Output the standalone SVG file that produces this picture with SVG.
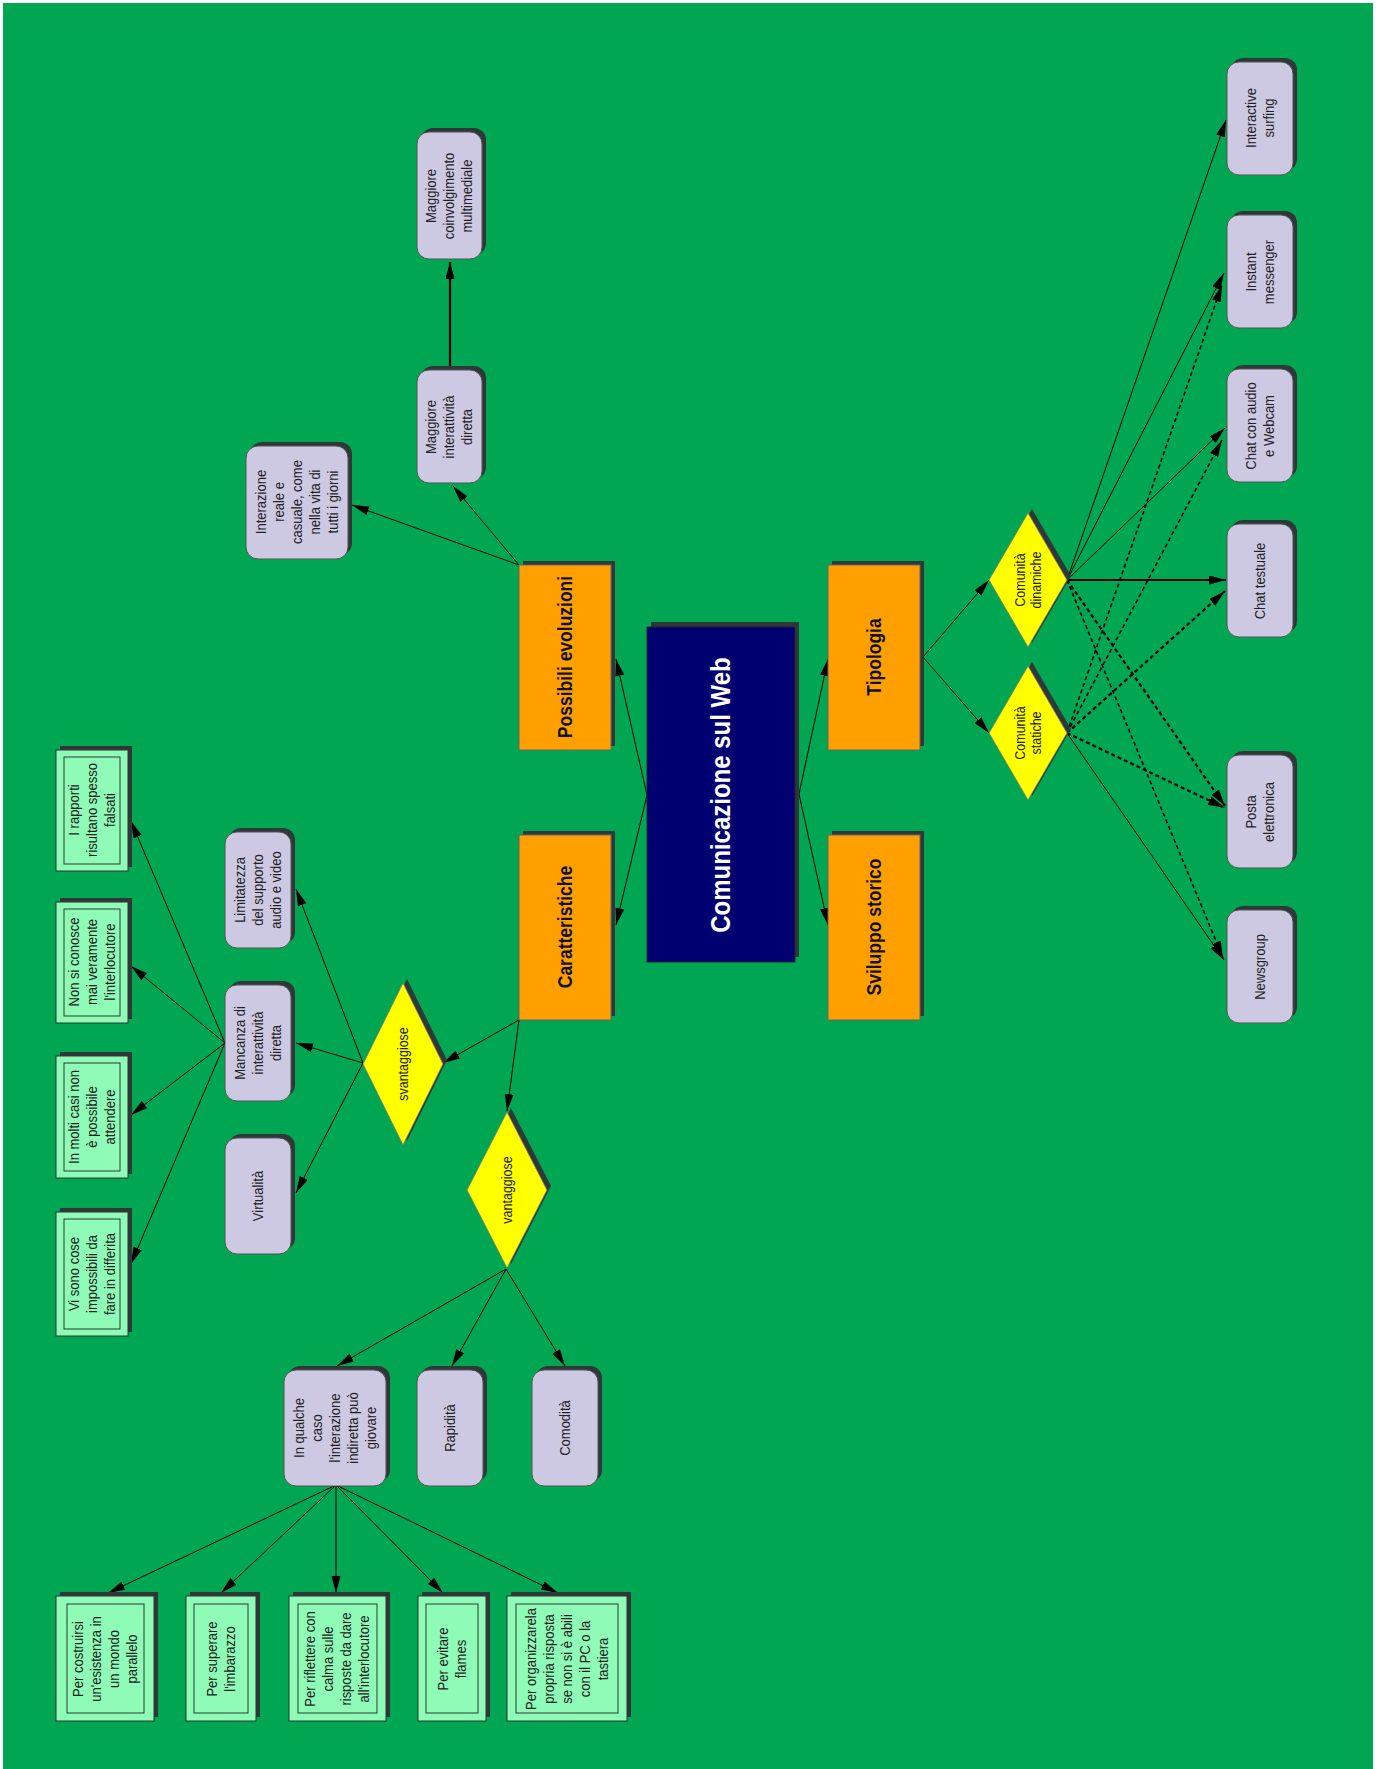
<svg xmlns="http://www.w3.org/2000/svg" width="1377" height="1769" viewBox="0 0 1377 1769">
<defs>
<marker id="ah" markerUnits="userSpaceOnUse" markerWidth="18" markerHeight="10" refX="17" refY="4.5" orient="auto"><path d="M0,0 L17,4.5 L0,9 z" fill="#000"/></marker>
<style>
.bg{fill:#00A651}
.sh{fill:#2E3838}
.lav{fill:#CDC9E3;stroke:#555;stroke-width:1}
.grn{fill:#8EFBB6;stroke:#333;stroke-width:1}
.inner{fill:none;stroke:#2a3a30;stroke-width:1}
.org{fill:#FFA000;stroke:#666;stroke-width:1}
.ctr{fill:#000070;stroke:#223;stroke-width:1}
.dia{fill:#FFFF00;stroke:#777;stroke-width:0.8}
.t{font-family:"Liberation Sans",Arial,sans-serif;font-size:13px;fill:#222;text-anchor:middle}
.td{font-family:"Liberation Sans",Arial,sans-serif;font-size:12.5px;fill:#222;text-anchor:middle}
.to{font-family:"Liberation Sans",Arial,sans-serif;font-size:17.5px;font-weight:bold;fill:#111;text-anchor:middle}
.tc{font-family:"Liberation Sans",Arial,sans-serif;font-size:24px;font-weight:bold;fill:#fff;text-anchor:middle}
.c{stroke:#000;stroke-width:1;fill:none;marker-end:url(#ah)}
.ck{stroke:#000;stroke-width:2.2;fill:none;marker-end:url(#ah)}
.cd{stroke:#000;stroke-width:1.6;stroke-dasharray:4 3;fill:none;marker-end:url(#ah)}
.cdk{stroke:#000;stroke-width:2.2;stroke-dasharray:4 3;fill:none;marker-end:url(#ah)}
</style>
</defs>
<rect x="0" y="0" width="1377" height="1769" fill="#fff"/>
<rect class="bg" x="3" y="3" width="1370" height="1766"/>

<g id="connectors">
<line class="c" x1="647" y1="795" x2="616" y2="659"/>
<line class="c" x1="647" y1="795" x2="616" y2="925"/>
<line class="c" x1="799" y1="794" x2="828" y2="659"/>
<line class="c" x1="799" y1="794" x2="828" y2="925"/>
<line class="c" x1="519" y1="565" x2="352" y2="505"/>
<line class="c" x1="519" y1="565" x2="453" y2="486"/>
<line class="ck" x1="450" y1="370" x2="450" y2="262"/>
<line class="c" x1="519" y1="1020" x2="443" y2="1063"/>
<line class="c" x1="519" y1="1020" x2="507" y2="1111"/>
<line class="c" x1="363" y1="1063" x2="296" y2="889"/>
<line class="c" x1="363" y1="1063" x2="296" y2="1043"/>
<line class="c" x1="363" y1="1063" x2="296" y2="1193"/>
<line class="c" x1="225" y1="1043" x2="131" y2="821"/>
<line class="c" x1="225" y1="1043" x2="131" y2="966"/>
<line class="c" x1="225" y1="1043" x2="131" y2="1115"/>
<line class="c" x1="225" y1="1043" x2="131" y2="1264"/>
<line class="c" x1="506" y1="1269" x2="337" y2="1366"/>
<line class="c" x1="506" y1="1269" x2="452" y2="1366"/>
<line class="c" x1="506" y1="1269" x2="565" y2="1366"/>
<line class="c" x1="336" y1="1485" x2="108" y2="1593"/>
<line class="c" x1="336" y1="1485" x2="221" y2="1593"/>
<line class="c" x1="336" y1="1485" x2="336" y2="1593"/>
<line class="c" x1="336" y1="1485" x2="443" y2="1593"/>
<line class="c" x1="336" y1="1485" x2="558" y2="1593"/>
<line class="c" x1="923" y1="657" x2="989" y2="580"/>
<line class="c" x1="923" y1="657" x2="989" y2="733"/>
<line class="c" x1="1067" y1="580" x2="1226" y2="120"/>
<line class="c" x1="1067" y1="580" x2="1224" y2="273"/>
<line class="c" x1="1067" y1="580" x2="1225" y2="428"/>
<line class="ck" x1="1067" y1="580" x2="1226" y2="580"/>
<line class="cdk" x1="1067" y1="580" x2="1225" y2="806"/>
<line class="cd" x1="1067" y1="580" x2="1223" y2="958"/>
<line class="cd" x1="1067" y1="733" x2="1222" y2="285"/>
<line class="cd" x1="1067" y1="733" x2="1222" y2="440"/>
<line class="cdk" x1="1067" y1="733" x2="1225" y2="591"/>
<line class="cdk" x1="1067" y1="733" x2="1225" y2="808"/>
<line class="c" x1="1067" y1="733" x2="1224" y2="960"/>
</g>

<g id="n-centro">
<rect class="sh" x="651" y="622" width="148" height="335"/>
<rect class="ctr" x="647" y="627" width="148" height="335"/>
<text class="tc" transform="translate(721,795) rotate(-90) scale(1,1.15)" y="8">Comunicazione sul Web</text>
</g>

<g id="n-possibili">
<rect class="sh" x="523" y="561" width="92" height="185"/>
<rect class="org" x="519" y="565" width="92" height="185"/>
<text class="to" transform="translate(565,657) rotate(-90) scale(1,1.15)" y="6">Possibili evoluzioni</text>
</g>
<g id="n-caratteristiche">
<rect class="sh" x="523" y="831" width="92" height="185"/>
<rect class="org" x="519" y="835" width="92" height="185"/>
<text class="to" transform="translate(565,927) rotate(-90) scale(1,1.15)" y="6">Caratteristiche</text>
</g>
<g id="n-tipologia">
<rect class="sh" x="832" y="561" width="92" height="185"/>
<rect class="org" x="828" y="565" width="92" height="185"/>
<text class="to" transform="translate(874,657) rotate(-90) scale(1,1.15)" y="6">Tipologia</text>
</g>
<g id="n-sviluppo">
<rect class="sh" x="832" y="831" width="92" height="185"/>
<rect class="org" x="828" y="835" width="92" height="185"/>
<text class="to" transform="translate(874,927) rotate(-90) scale(1,1.15)" y="6">Sviluppo storico</text>
</g>

<g id="n-interazione">
<rect class="sh" x="250" y="442" width="102" height="113" rx="12"/>
<rect class="lav" x="246" y="446" width="102" height="113" rx="12"/>
<text class="t" transform="translate(297,502) rotate(-90) scale(1,1.15)"><tspan x="0" y="-27">Interazione</tspan><tspan x="0" y="-11.4">reale e</tspan><tspan x="0" y="4.3">casuale, come</tspan><tspan x="0" y="20">nella vita di</tspan><tspan x="0" y="35.6">tutti i giorni</tspan></text>
</g>
<g id="n-interattivita">
<rect class="sh" x="421" y="366" width="65" height="113" rx="12"/>
<rect class="lav" x="417" y="370" width="65" height="113" rx="12"/>
<text class="t" transform="translate(449,427) rotate(-90) scale(1,1.15)"><tspan x="0" y="-11.4">Maggiore</tspan><tspan x="0" y="4.3">interattività</tspan><tspan x="0" y="20">diretta</tspan></text>
</g>
<g id="n-coinvolgimento">
<rect class="sh" x="421" y="128" width="65" height="127" rx="12"/>
<rect class="lav" x="417" y="132" width="65" height="127" rx="12"/>
<text class="t" transform="translate(449,196) rotate(-90) scale(1,1.15)"><tspan x="0" y="-11.4">Maggiore</tspan><tspan x="0" y="4.3">coinvolgimento</tspan><tspan x="0" y="20">multimediale</tspan></text>
</g>

<g id="n-svantaggiose">
<polygon class="sh" points="407,979 447,1060 407,1141 367,1060"/>
<polygon class="dia" points="403,983 443,1064 403,1145 363,1064"/>
<text class="td" transform="translate(403,1064) rotate(-90) scale(1,1.1)" y="4.5">svantaggiose</text>
</g>
<g id="n-vantaggiose">
<polygon class="sh" points="511,1108 551,1186 511,1264 471,1186"/>
<polygon class="dia" points="507,1112 547,1190 507,1268 467,1190"/>
<text class="td" transform="translate(507,1190) rotate(-90) scale(1,1.1)" y="4.5">vantaggiose</text>
</g>

<g id="n-limitatezza">
<rect class="sh" x="229" y="828" width="66" height="116" rx="12"/>
<rect class="lav" x="225" y="832" width="66" height="116" rx="12"/>
<text class="t" transform="translate(258,890) rotate(-90) scale(1,1.15)"><tspan x="0" y="-11.4">Limitatezza</tspan><tspan x="0" y="4.3">del supporto</tspan><tspan x="0" y="20">audio e video</tspan></text>
</g>
<g id="n-mancanza">
<rect class="sh" x="229" y="981" width="66" height="116" rx="12"/>
<rect class="lav" x="225" y="985" width="66" height="116" rx="12"/>
<text class="t" transform="translate(258,1043) rotate(-90) scale(1,1.15)"><tspan x="0" y="-11.4">Mancanza di</tspan><tspan x="0" y="4.3">interattività</tspan><tspan x="0" y="20">diretta</tspan></text>
</g>
<g id="n-virtualita">
<rect class="sh" x="229" y="1134" width="66" height="116" rx="12"/>
<rect class="lav" x="225" y="1138" width="66" height="116" rx="12"/>
<text class="t" transform="translate(258,1196) rotate(-90) scale(1,1.15)" y="4.3">Virtualità</text>
</g>

<g id="n-rapporti">
<rect class="sh" x="60" y="746" width="72" height="121"/>
<rect class="grn" x="56" y="750" width="72" height="121"/>
<rect class="inner" x="64" y="757" width="56" height="107"/>
<text class="t" transform="translate(92,810) rotate(-90) scale(1,1.15)"><tspan x="0" y="-11.4">I rapporti</tspan><tspan x="0" y="4.3">risultano spesso</tspan><tspan x="0" y="20">falsati</tspan></text>
</g>
<g id="n-conosce">
<rect class="sh" x="60" y="898" width="72" height="121"/>
<rect class="grn" x="56" y="902" width="72" height="121"/>
<rect class="inner" x="64" y="909" width="56" height="107"/>
<text class="t" transform="translate(92,962) rotate(-90) scale(1,1.15)"><tspan x="0" y="-11.4">Non si conosce</tspan><tspan x="0" y="4.3">mai veramente</tspan><tspan x="0" y="20">l'interlocutore</tspan></text>
</g>
<g id="n-molticasi">
<rect class="sh" x="60" y="1052" width="72" height="122"/>
<rect class="grn" x="56" y="1056" width="72" height="122"/>
<rect class="inner" x="64" y="1063" width="56" height="108"/>
<text class="t" transform="translate(92,1117) rotate(-90) scale(1,1.15)"><tspan x="0" y="-11.4">In molti casi non</tspan><tspan x="0" y="4.3">è possibile</tspan><tspan x="0" y="20">attendere</tspan></text>
</g>
<g id="n-visono">
<rect class="sh" x="60" y="1208" width="72" height="124"/>
<rect class="grn" x="56" y="1212" width="72" height="124"/>
<rect class="inner" x="64" y="1219" width="56" height="110"/>
<text class="t" transform="translate(92,1274) rotate(-90) scale(1,1.15)"><tspan x="0" y="-11.4">Vi sono cose</tspan><tspan x="0" y="4.3">impossibili da</tspan><tspan x="0" y="20">fare in differita</tspan></text>
</g>

<g id="n-inqualche">
<rect class="sh" x="288" y="1366" width="102" height="116" rx="12"/>
<rect class="lav" x="284" y="1370" width="102" height="116" rx="12"/>
<text class="t" transform="translate(335,1428) rotate(-90) scale(1,1.15)"><tspan x="0" y="-27">In qualche</tspan><tspan x="0" y="-11.4">caso</tspan><tspan x="0" y="4.3">l'interazione</tspan><tspan x="0" y="20">indiretta può</tspan><tspan x="0" y="35.6">giovare</tspan></text>
</g>
<g id="n-rapidita">
<rect class="sh" x="421" y="1366" width="66" height="116" rx="12"/>
<rect class="lav" x="417" y="1370" width="66" height="116" rx="12"/>
<text class="t" transform="translate(450,1428) rotate(-90) scale(1,1.15)" y="4.3">Rapidità</text>
</g>
<g id="n-comodita">
<rect class="sh" x="536" y="1366" width="66" height="116" rx="12"/>
<rect class="lav" x="532" y="1370" width="66" height="116" rx="12"/>
<text class="t" transform="translate(565,1428) rotate(-90) scale(1,1.15)" y="4.3">Comodità</text>
</g>

<g id="n-costruirsi">
<rect class="sh" x="60" y="1592" width="98" height="125"/>
<rect class="grn" x="56" y="1596" width="98" height="125"/>
<rect class="inner" x="67" y="1604" width="77" height="109"/>
<text class="t" transform="translate(105,1659) rotate(-90) scale(1,1.15)"><tspan x="0" y="-19.2">Per costruirsi</tspan><tspan x="0" y="-3.5">un'esistenza in</tspan><tspan x="0" y="12.2">un mondo</tspan><tspan x="0" y="27.9">parallelo</tspan></text>
</g>
<g id="n-superare">
<rect class="sh" x="190" y="1592" width="70" height="125"/>
<rect class="grn" x="186" y="1596" width="70" height="125"/>
<rect class="inner" x="194" y="1604" width="54" height="109"/>
<text class="t" transform="translate(221,1659) rotate(-90) scale(1,1.15)"><tspan x="0" y="-3.5">Per superare</tspan><tspan x="0" y="12.2">l'imbarazzo</tspan></text>
</g>
<g id="n-riflettere">
<rect class="sh" x="293" y="1592" width="97" height="125"/>
<rect class="grn" x="289" y="1596" width="97" height="125"/>
<rect class="inner" x="298" y="1604" width="79" height="109"/>
<text class="t" transform="translate(337,1659) rotate(-90) scale(1,1.15)"><tspan x="0" y="-19.2">Per riflettere con</tspan><tspan x="0" y="-3.5">calma sulle</tspan><tspan x="0" y="12.2">risposte da dare</tspan><tspan x="0" y="27.9">all'interlocutore</tspan></text>
</g>
<g id="n-evitare">
<rect class="sh" x="422" y="1592" width="68" height="125"/>
<rect class="grn" x="418" y="1596" width="68" height="125"/>
<rect class="inner" x="426" y="1604" width="52" height="109"/>
<text class="t" transform="translate(452,1659) rotate(-90) scale(1,1.15)"><tspan x="0" y="-3.5">Per evitare</tspan><tspan x="0" y="12.2">flames</tspan></text>
</g>
<g id="n-organizzare">
<rect class="sh" x="511" y="1592" width="120" height="125"/>
<rect class="grn" x="507" y="1596" width="120" height="125"/>
<rect class="inner" x="516" y="1604" width="102" height="109"/>
<text class="t" transform="translate(567,1659) rotate(-90) scale(1,1.15)"><tspan x="0" y="-27">Per organizzarela</tspan><tspan x="0" y="-11.4">propria risposta</tspan><tspan x="0" y="4.3">se non si è abili</tspan><tspan x="0" y="20">con il PC o la</tspan><tspan x="0" y="35.6">tastiera</tspan></text>
</g>

<g id="n-dinamiche">
<polygon class="sh" points="1032,509 1071,576 1032,643 993,576"/>
<polygon class="dia" points="1028,513 1067,580 1028,647 989,580"/>
<text class="td" transform="translate(1028,580) rotate(-90) scale(1,1.1)"><tspan x="0" y="-3">Comunità</tspan><tspan x="0" y="11.5">dinamiche</tspan></text>
</g>
<g id="n-statiche">
<polygon class="sh" points="1032,662 1071,729 1032,796 993,729"/>
<polygon class="dia" points="1028,666 1067,733 1028,800 989,733"/>
<text class="td" transform="translate(1028,733) rotate(-90) scale(1,1.1)"><tspan x="0" y="-3">Comunità</tspan><tspan x="0" y="11.5">statiche</tspan></text>
</g>

<g id="n-surfing">
<rect class="sh" x="1231" y="58" width="66" height="113" rx="12"/>
<rect class="lav" x="1227" y="62" width="66" height="113" rx="12"/>
<text class="t" transform="translate(1260,118) rotate(-90) scale(1,1.15)"><tspan x="0" y="-3.5">Interactive</tspan><tspan x="0" y="12.2">surfing</tspan></text>
</g>
<g id="n-messenger">
<rect class="sh" x="1231" y="211" width="66" height="113" rx="12"/>
<rect class="lav" x="1227" y="215" width="66" height="113" rx="12"/>
<text class="t" transform="translate(1260,272) rotate(-90) scale(1,1.15)"><tspan x="0" y="-3.5">Instant</tspan><tspan x="0" y="12.2">messenger</tspan></text>
</g>
<g id="n-chataudio">
<rect class="sh" x="1231" y="365" width="66" height="113" rx="12"/>
<rect class="lav" x="1227" y="369" width="66" height="113" rx="12"/>
<text class="t" transform="translate(1260,426) rotate(-90) scale(1,1.15)"><tspan x="0" y="-3.5">Chat con audio</tspan><tspan x="0" y="12.2">e Webcam</tspan></text>
</g>
<g id="n-chattestuale">
<rect class="sh" x="1231" y="520" width="66" height="113" rx="12"/>
<rect class="lav" x="1227" y="524" width="66" height="113" rx="12"/>
<text class="t" transform="translate(1260,581) rotate(-90) scale(1,1.15)" y="4.3">Chat testuale</text>
</g>
<g id="n-posta">
<rect class="sh" x="1231" y="751" width="66" height="113" rx="12"/>
<rect class="lav" x="1227" y="755" width="66" height="113" rx="12"/>
<text class="t" transform="translate(1260,812) rotate(-90) scale(1,1.15)"><tspan x="0" y="-3.5">Posta</tspan><tspan x="0" y="12.2">elettronica</tspan></text>
</g>
<g id="n-newsgroup">
<rect class="sh" x="1231" y="906" width="66" height="113" rx="12"/>
<rect class="lav" x="1227" y="910" width="66" height="113" rx="12"/>
<text class="t" transform="translate(1260,967) rotate(-90) scale(1,1.15)" y="4.3">Newsgroup</text>
</g>
</svg>
